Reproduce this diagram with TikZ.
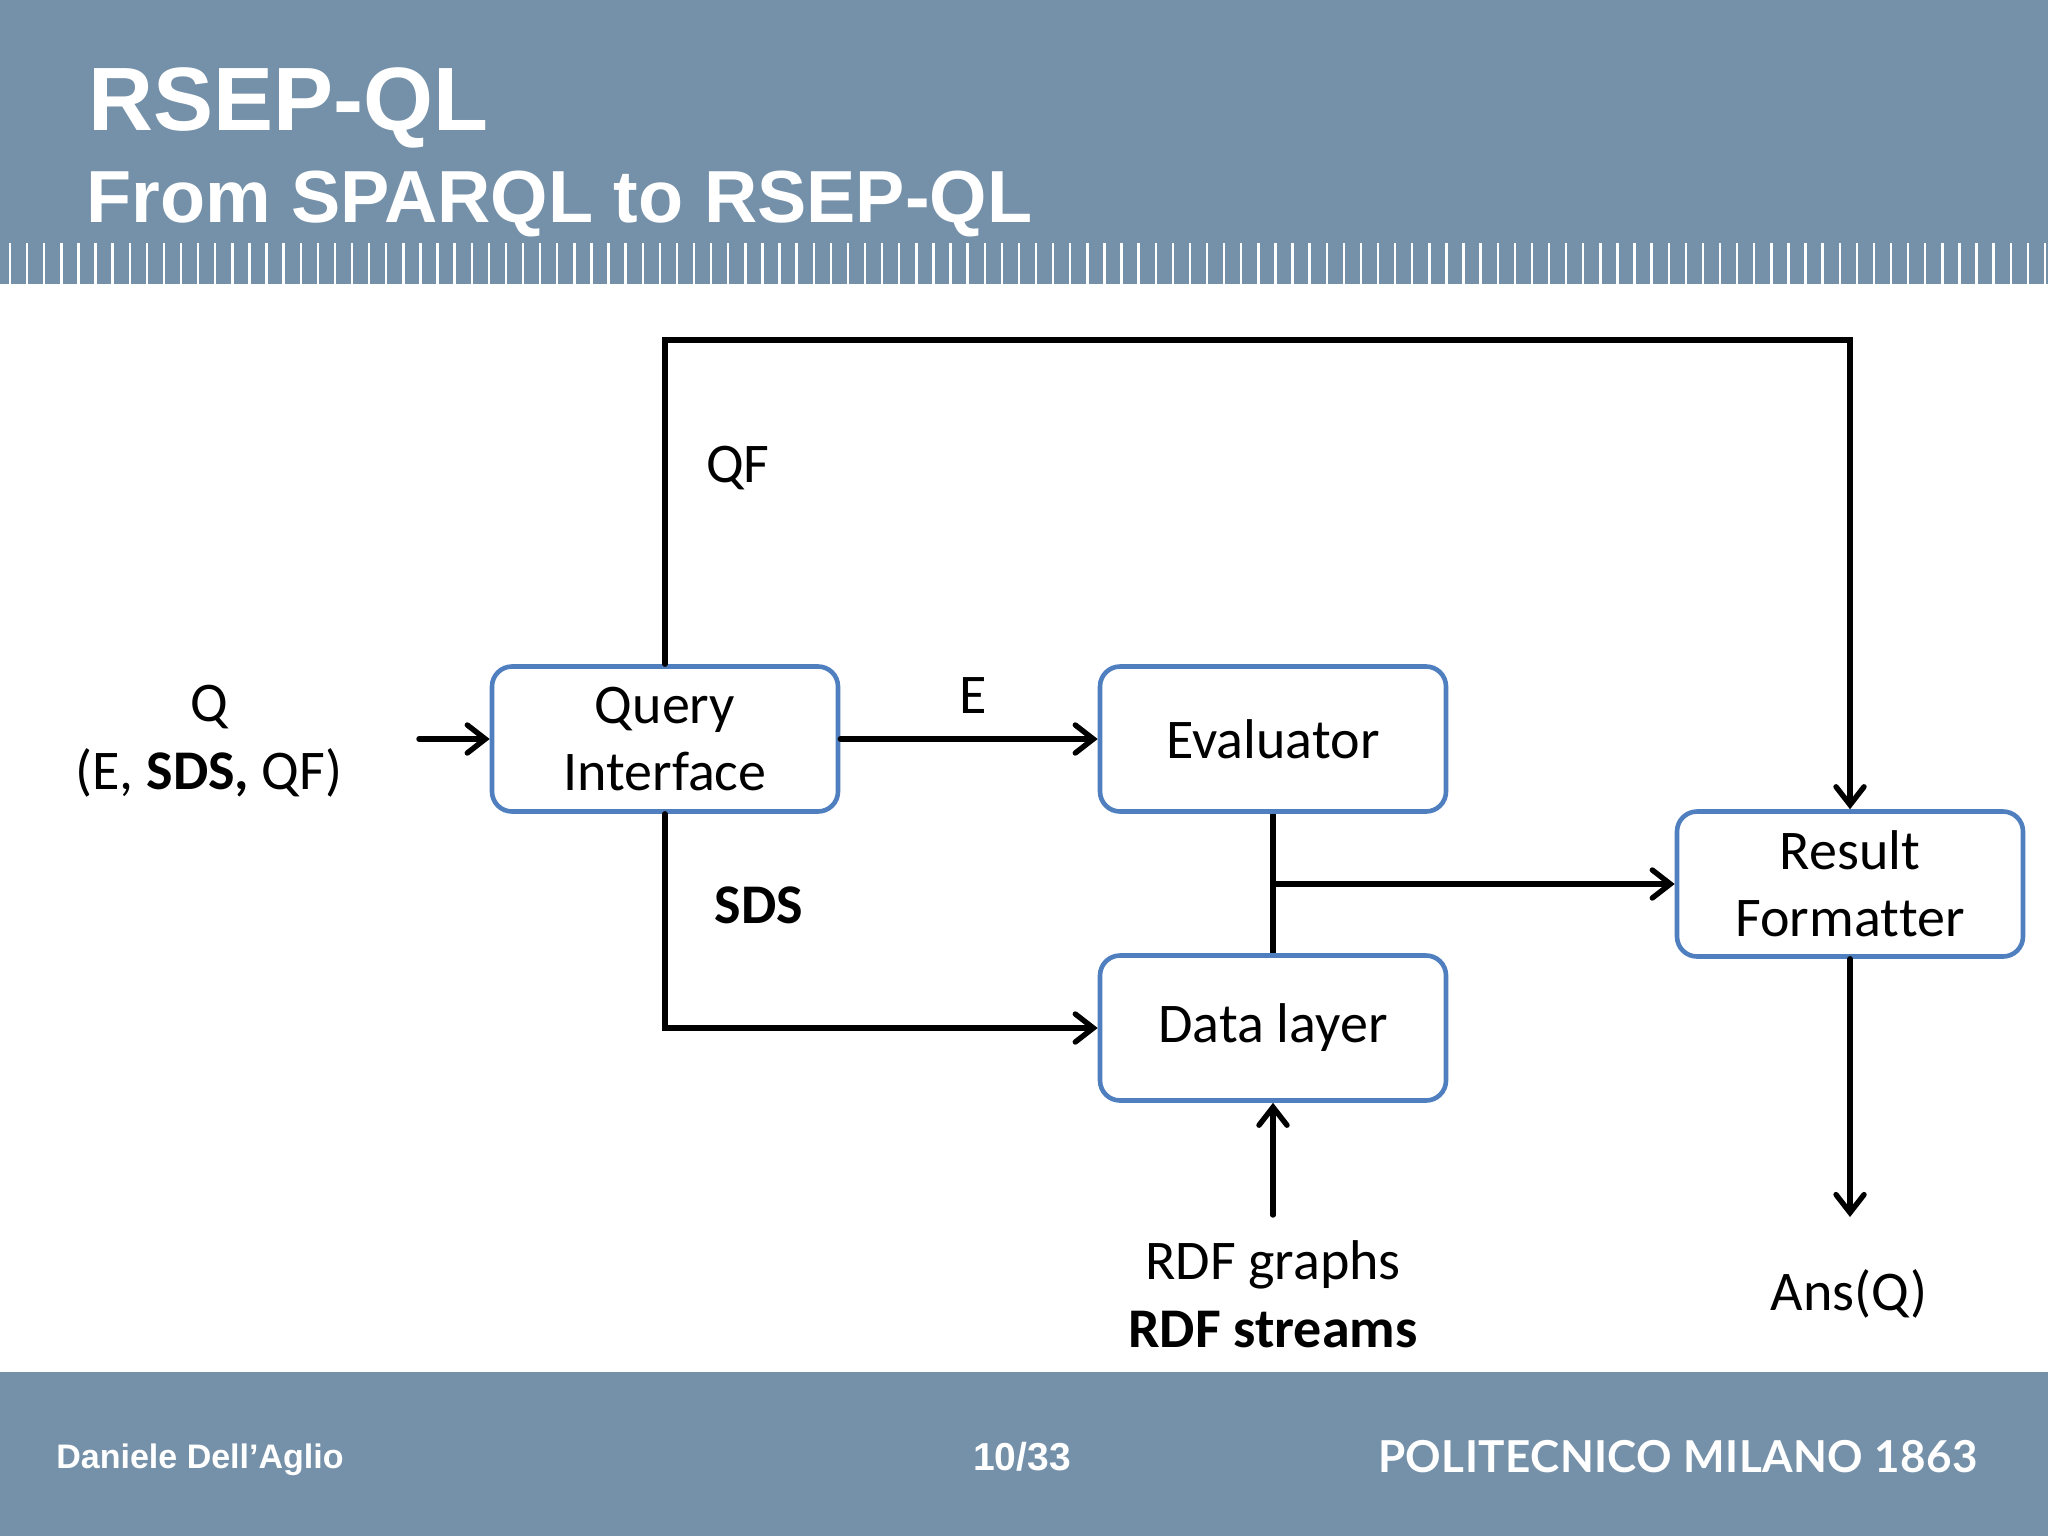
\documentclass[tikz,border=0pt]{standalone}
\usepackage{fontspec}
\setmainfont{Carlito}[Ligatures=NoCommon]
\newfontfamily\hdfont{Liberation Sans}
\newfontfamily\logofont[LetterSpace=1]{Lato}
\usetikzlibrary{arrows.meta}
\definecolor{band}{HTML}{7591A9}
\definecolor{boxblue}{HTML}{4F7FBE}
\tikzset{
  blk/.style={draw=boxblue, line width=2.3pt, rounded corners=10pt, fill=white,
    minimum width=173pt, minimum height=72.5pt, align=center, inner sep=0pt,
    font=\fontsize{28}{33.5}\selectfont},
  lbl/.style={align=center, inner sep=0pt, font=\fontsize{28}{34}\selectfont},
  conn/.style={line width=2.7pt, line cap=round, line join=miter,
    -{Straight Barb[length=9pt, width=14pt, line width=2.7pt, line cap=round]}},
  plain/.style={line width=2.7pt},
}
\begin{document}
\begin{tikzpicture}[x=0.5pt, y=-0.5pt]
\useasboundingbox (0,0) rectangle (2048,1536);
% header
\fill[band] (0,0) rectangle (2048,284);
\foreach \i in {0,...,119} {
  \fill[white] ({10+17.1*\i-1.2},243) rectangle ({10+17.1*\i+1.2},284);
}
\node[anchor=base west, inner sep=0pt, text=white, font=\hdfont\bfseries\fontsize{45}{50}\selectfont] (title) at (88,130) {RSEP-QL};
\node[anchor=base west, inner sep=0pt, text=white, font=\hdfont\bfseries\fontsize{36.9}{40}\selectfont] (subtitle) at (86,222) {From SPARQL to RSEP-QL};
% footer
\fill[band] (0,1372) rectangle (2048,1536);
\node[anchor=base west, inner sep=0pt, text=white, font=\hdfont\bfseries\fontsize{17}{20}\selectfont] (author) at (56,1468) {Daniele Dell’Aglio};
\node[anchor=base, inner sep=0pt, text=white, font=\hdfont\bfseries\fontsize{19.5}{22}\selectfont] (page) at (1022,1470) {10/33};
\node[anchor=base east, inner sep=0pt, text=white, font=\logofont\bfseries\fontsize{22}{26}\selectfont] (logo) at (1978,1472) {POLITECNICO MILANO 1863};
% boxes
\node[blk] (qi) at (665,739) {Query\\Interface};
\node[blk] (ev) at (1273,739) {Evaluator};
\node[blk] (rf) at (1850,884) {Result\\Format\kern0pt ter};
\node[blk] (dl) at (1273,1028) {Data layer};
% labels
\node[lbl] (qlbl) at (209,741) {Q\\(E, \textbf{SDS,} QF)};
\node[lbl] (qf) at (738,468) {QF};
\node[lbl] (elbl) at (973,696) {E};
\node[lbl, font=\bfseries\fontsize{28}{34}\selectfont] (sds) at (759,905) {SDS};
\node[lbl] (rdf) at (1273,1294) {RDF graphs\\\textbf{RDF streams}};
\node[lbl] (ans) at (1849,1294) {Ans(Q)};
% coordinates
\coordinate (in) at (419,739);
\coordinate (top) at (0,340);
\coordinate (rdfin) at (1273,1215);
\coordinate (out) at (1850,1217);
% connectors
\draw[conn] (in) -- (qi.west);
\draw[conn] (qi.east) -- (ev.west);
\draw[conn] (qi.north) -- (qi.north |- top) -- (rf.north |- top) -- (rf.north);
\draw[conn] (qi.south) -- (qi.south |- dl.west) -- (dl.west);
\draw[plain] (ev.south) -- (dl.north);
\draw[conn] (ev.south |- rf.west) -- (rf.west);
\draw[conn] (rdfin) -- (dl.south);
\draw[conn] (rf.south) -- (out);
\end{tikzpicture}
\end{document}
